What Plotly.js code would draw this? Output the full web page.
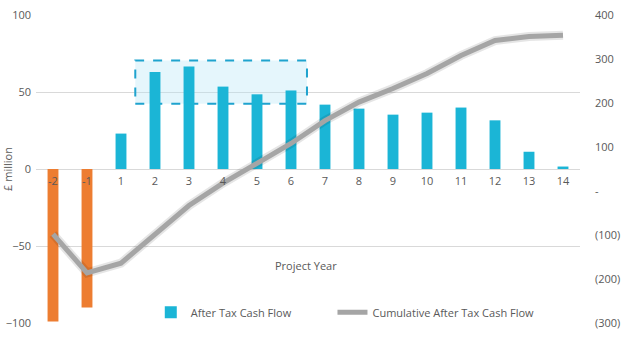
<!DOCTYPE html>
<html>
<head>
<meta charset="utf-8">
<script src="https://cdn.plot.ly/plotly-3.0.1.min.js"></script>
<style>html,body{margin:0;padding:0;background:#fff;}#chart{width:630px;height:339px;}</style>
</head>
<body>
<div id="chart"></div>
<script>
// Data
const projectYears = ['-2','-1','1','2','3','4','5','6','7','8','9','10','11','12','13','14'];
const afterTaxCashFlow = [-99, -90, 23, 63, 66.5, 53.5, 48.5, 51, 41.8, 39.2, 35.3, 36.6, 39.9, 31.6, 11.2, 1.6];
const cumulativeCashFlow = [-98, -186, -164, -98, -33, 18, 62, 108, 160, 202, 233, 267, 308, 342, 351, 354];
const leftTickVals = [-100, -50, 0, 50, 100];
const rightTickVals = [-300, -200, -100, 0, 100, 200, 300, 400];
const rightTickText = ['(300)', '(200)', '(100)', '-', '100', '200', '300', '400'];

const positiveFlow = afterTaxCashFlow.map(v => v >= 0 ? v : null);
const negativeFlow = afterTaxCashFlow.map(v => v < 0 ? v : null);
const font = {family: 'Open Sans, Liberation Sans, sans-serif', size: 11, color: '#595959'};

const traces = [
  {
    type: 'bar', name: 'After Tax Cash Flow', x: projectYears, y: positiveFlow,
    marker: {color: '#1BB5D6'}, yaxis: 'y', legend: 'legend'
  },
  {
    type: 'bar', name: 'After Tax Cash Flow (negative)', x: projectYears, y: negativeFlow,
    marker: {color: '#ED7D31'}, yaxis: 'y', showlegend: false
  },
  {
    type: 'scatter', mode: 'lines', name: 'shadow', x: projectYears, y: cumulativeCashFlow,
    yaxis: 'y2', line: {color: 'rgba(0,0,0,0.10)', width: 9}, showlegend: false, hoverinfo: 'skip'
  },
  {
    type: 'scatter', mode: 'lines', name: 'Cumulative After Tax Cash Flow', x: projectYears, y: cumulativeCashFlow,
    yaxis: 'y2', line: {color: '#A5A5A5', width: 5}, legend: 'legend2'
  }
];

const legendBase = {orientation: 'h', yanchor: 'middle', y: 0.035, xanchor: 'left',
                    font: font, bgcolor: 'rgba(0,0,0,0)'};

const layout = {
  width: 630, height: 339,
  margin: {l: 36, r: 50, t: 15, b: 16},
  paper_bgcolor: '#fff', plot_bgcolor: '#fff',
  font: font,
  barmode: 'overlay',
  bargap: 0.68,
  showlegend: true,
  legend: Object.assign({}, legendBase, {x: 0.211}),
  legend2: Object.assign({}, legendBase, {x: 0.545}),
  xaxis: {
    type: 'category', anchor: 'free', position: 0.5,
    showgrid: false, showline: false, zeroline: false, ticks: '',
    tickfont: font, ticklabelstandoff: 4, fixedrange: true
  },
  yaxis: {
    range: [-100, 100], tickvals: leftTickVals, showgrid: true, gridcolor: '#D9D9D9', gridwidth: 1,
    zeroline: true, zerolinecolor: '#D9D9D9', zerolinewidth: 1, showline: false, ticks: '',
    tickfont: font, ticklabelstandoff: 4,
    title: {text: '£ million', font: font, standoff: 6}
  },
  yaxis2: {
    range: [-300, 400], overlaying: 'y', side: 'right', tickvals: rightTickVals, ticktext: rightTickText,
    showgrid: false, zeroline: false, showline: false, ticks: '', tickfont: font, ticklabelstandoff: 14
  },
  shapes: [{
    type: 'rect', xref: 'x', yref: 'y', x0: 2.42, x1: 7.47, y0: 42.3, y1: 70.5,
    line: {color: '#1FA3CE', width: 2, dash: 'dash'}, fillcolor: 'rgba(180,228,246,0.35)', layer: 'between'
  }],
  annotations: [{
    text: 'Project Year', xref: 'paper', yref: 'paper', x: 0.496, y: (322.7 - 265) / 307.7,
    showarrow: false, font: font, xanchor: 'center', yanchor: 'middle'
  }]
};

Plotly.newPlot('chart', traces, layout, {displayModeBar: false, staticPlot: true});
</script>
</body>
</html>
